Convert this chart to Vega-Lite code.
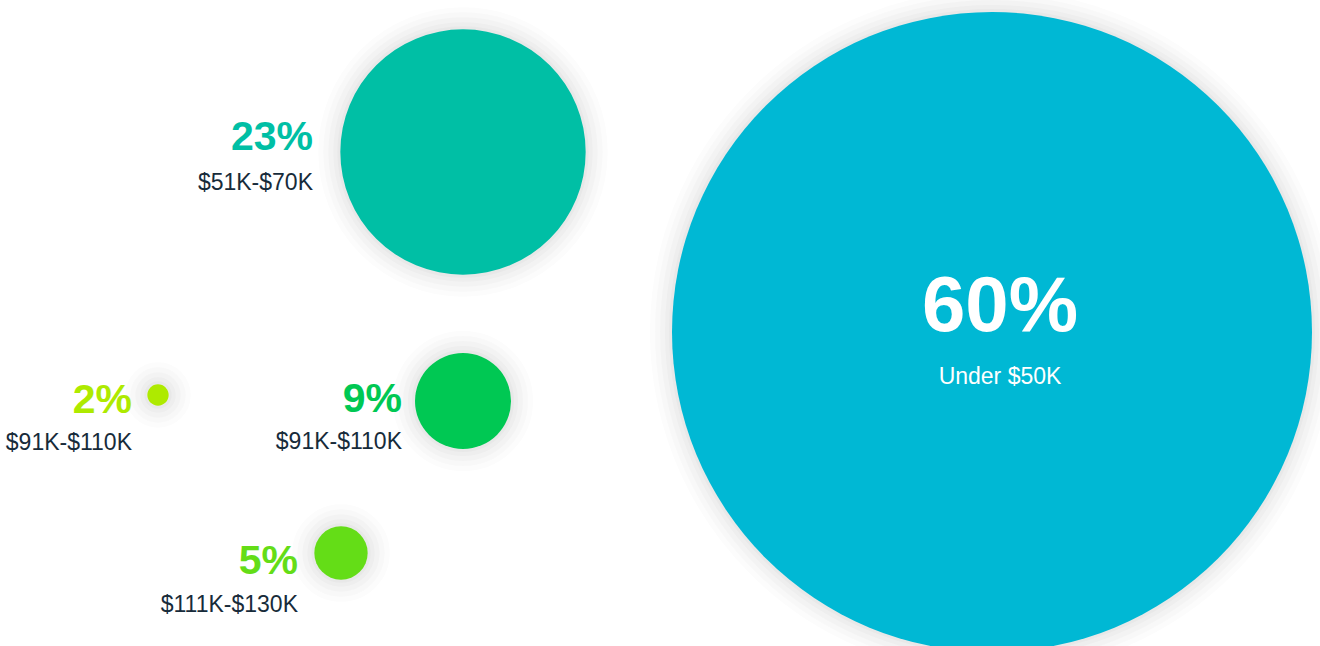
{
  "$schema": "https://vega.github.io/schema/vega-lite/v6.json",
  "width": 1320,
  "height": 646,
  "autosize": "none",
  "padding": 0,
  "background": "#ffffff",
  "view": {"stroke": null},
  "config": {"font": "Liberation Sans"},
  "data": {
    "values": [
      {"band": "Under $50K", "pct": 60, "text": "60%", "x": 992, "y": 332, "tx": 1000, "ty": 331, "lty": 384},
      {"band": "$51K-$70K", "pct": 23, "text": "23%", "x": 463, "y": 152, "tx": 313, "ty": 150, "lty": 190},
      {"band": "$91K-$110K", "pct": 9, "text": "9%", "x": 463, "y": 401, "tx": 402, "ty": 412, "lty": 449},
      {"band": "$111K-$130K", "pct": 5, "text": "5%", "x": 341, "y": 553, "tx": 298, "ty": 574, "lty": 612},
      {"band": "$91K-$110K ", "pct": 2, "text": "2%", "x": 158, "y": 395, "tx": 132, "ty": 413, "lty": 450}
    ]
  },
  "encoding": {
    "x": {"field": "x", "type": "quantitative", "axis": null, "scale": {"domain": [0, 1320], "nice": false, "zero": false}},
    "y": {"field": "y", "type": "quantitative", "axis": null, "scale": {"domain": [0, 646], "nice": false, "zero": false, "reverse": true}}
  },
  "layer": [
    {
      "mark": {"type": "point", "shape": "circle", "filled": false, "stroke": "#000000", "strokeOpacity": 0.014, "strokeWidth": 44},
      "encoding": {"size": {"field": "pct", "type": "quantitative", "legend": null, "scale": {"type": "pow", "exponent": 2, "domain": [0, 60], "range": [0, 409600]}}}
    },
    {
      "mark": {"type": "point", "shape": "circle", "filled": false, "stroke": "#000000", "strokeOpacity": 0.018, "strokeWidth": 34},
      "encoding": {"size": {"field": "pct", "type": "quantitative", "legend": null, "scale": {"type": "pow", "exponent": 2, "domain": [0, 60], "range": [0, 409600]}}}
    },
    {
      "mark": {"type": "point", "shape": "circle", "filled": false, "stroke": "#000000", "strokeOpacity": 0.022, "strokeWidth": 24},
      "encoding": {"size": {"field": "pct", "type": "quantitative", "legend": null, "scale": {"type": "pow", "exponent": 2, "domain": [0, 60], "range": [0, 409600]}}}
    },
    {
      "mark": {"type": "point", "shape": "circle", "filled": false, "stroke": "#000000", "strokeOpacity": 0.026, "strokeWidth": 14},
      "encoding": {"size": {"field": "pct", "type": "quantitative", "legend": null, "scale": {"type": "pow", "exponent": 2, "domain": [0, 60], "range": [0, 409600]}}}
    },
    {
      "mark": {"type": "point", "shape": "circle", "filled": false, "stroke": "#000000", "strokeOpacity": 0.03, "strokeWidth": 6},
      "encoding": {"size": {"field": "pct", "type": "quantitative", "legend": null, "scale": {"type": "pow", "exponent": 2, "domain": [0, 60], "range": [0, 409600]}}}
    },
    {
      "mark": {"type": "point", "shape": "circle", "filled": true, "opacity": 1, "strokeWidth": 0},
      "encoding": {
        "size": {"field": "pct", "type": "quantitative", "legend": null, "scale": {"type": "pow", "exponent": 2, "domain": [0, 60], "range": [0, 409600]}},
        "color": {"field": "band", "type": "nominal", "legend": null, "scale": {"domain": ["Under $50K", "$51K-$70K", "$91K-$110K", "$111K-$130K", "$91K-$110K "], "range": ["#00B8D4", "#00BFA5", "#00C853", "#64DD17", "#AEEA00"]}}
      }
    },
    {
      "transform": [{"filter": "datum.pct < 60"}],
      "mark": {"type": "text", "align": "right", "baseline": "alphabetic", "fontSize": 41, "fontWeight": "bold"},
      "encoding": {
        "x": {"field": "tx", "type": "quantitative"},
        "y": {"field": "ty", "type": "quantitative"},
        "text": {"field": "text"},
        "color": {"field": "band", "type": "nominal", "legend": null, "scale": {"domain": ["Under $50K", "$51K-$70K", "$91K-$110K", "$111K-$130K", "$91K-$110K "], "range": ["#00B8D4", "#00BFA5", "#00C853", "#64DD17", "#AEEA00"]}}
      }
    },
    {
      "transform": [{"filter": "datum.pct < 60"}],
      "mark": {"type": "text", "align": "right", "baseline": "alphabetic", "fontSize": 23, "color": "#172B3A"},
      "encoding": {
        "x": {"field": "tx", "type": "quantitative"},
        "y": {"field": "lty", "type": "quantitative"},
        "text": {"field": "band"}
      }
    },
    {
      "transform": [{"filter": "datum.pct == 60"}],
      "mark": {"type": "text", "align": "center", "baseline": "alphabetic", "fontSize": 78, "fontWeight": "bold", "color": "#ffffff"},
      "encoding": {
        "x": {"field": "tx", "type": "quantitative"},
        "y": {"field": "ty", "type": "quantitative"},
        "text": {"field": "text"}
      }
    },
    {
      "transform": [{"filter": "datum.pct == 60"}],
      "mark": {"type": "text", "align": "center", "baseline": "alphabetic", "fontSize": 23, "color": "#ffffff"},
      "encoding": {
        "x": {"field": "tx", "type": "quantitative"},
        "y": {"field": "lty", "type": "quantitative"},
        "text": {"field": "band"}
      }
    }
  ]
}
